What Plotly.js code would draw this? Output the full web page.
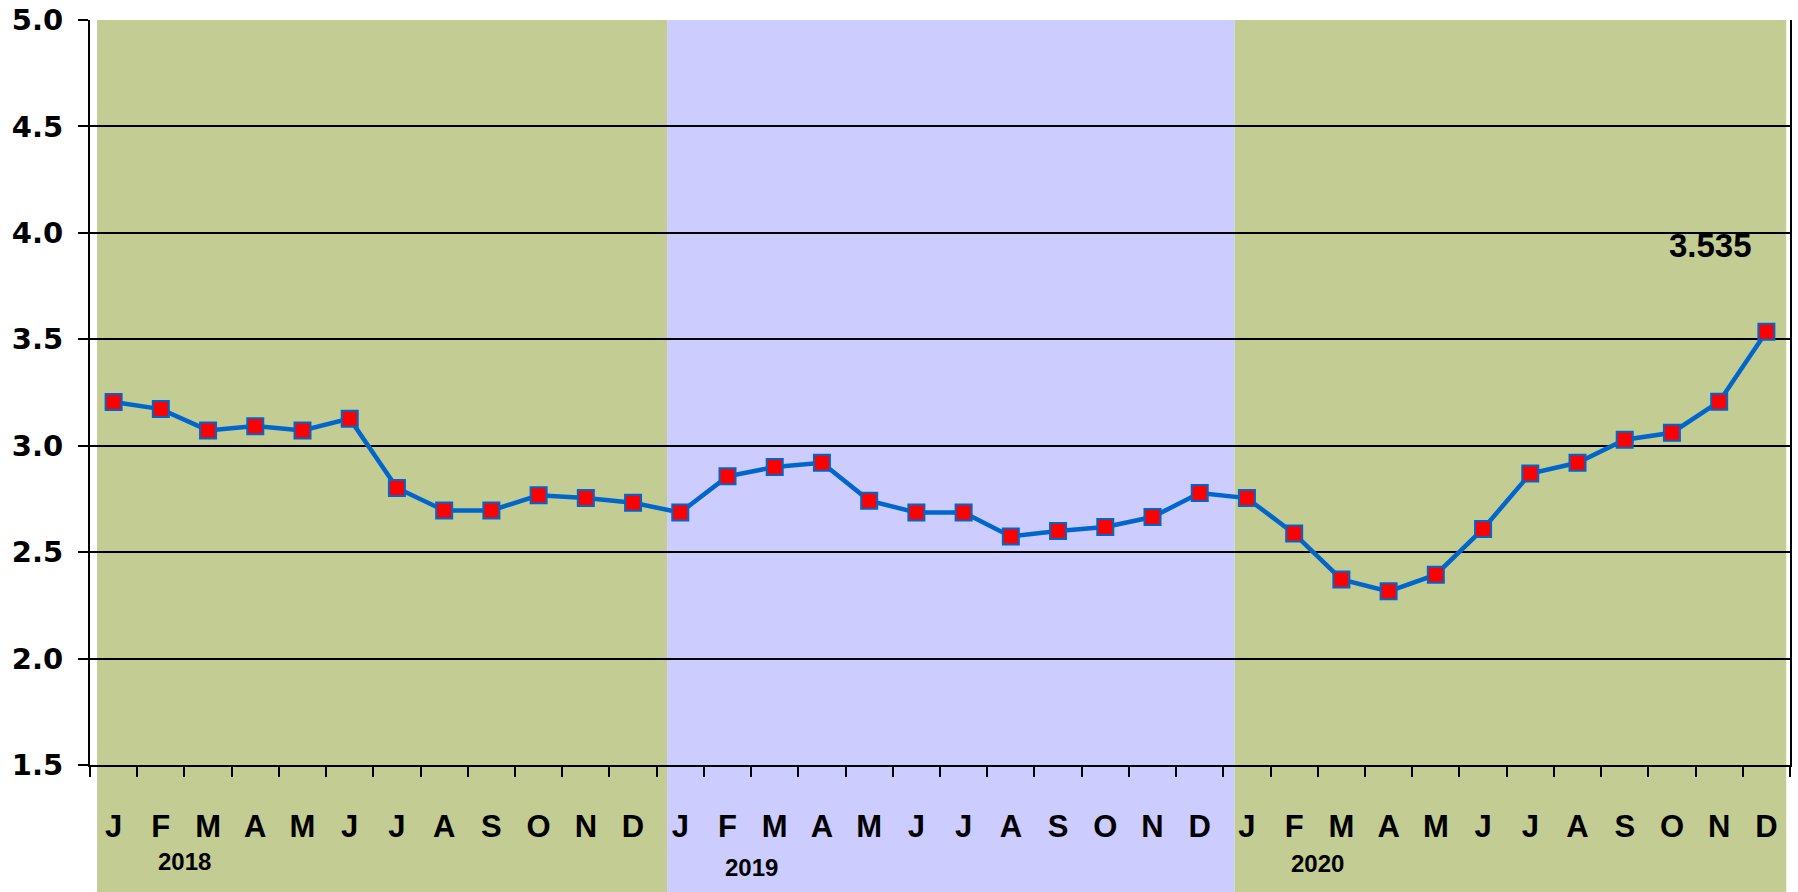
<!DOCTYPE html>
<html>
<head>
<meta charset="utf-8">
<script src="https://cdn.plot.ly/plotly-3.0.1.min.js"></script>
<style>html,body{margin:0;padding:0;background:#fff;}#chart{width:1798px;height:892px;}</style>
</head>
<body>
<div id="chart"></div>
<script>
// Data
const monthLabels = ['J','F','M','A','M','J','J','A','S','O','N','D'];
const years = ['2018','2019','2020'];
const values2018 = [3.205, 3.172, 3.072, 3.092, 3.072, 3.127, 2.801, 2.696, 2.696, 2.767, 2.754, 2.732];
const values2019 = [2.686, 2.856, 2.900, 2.920, 2.742, 2.686, 2.686, 2.574, 2.599, 2.618, 2.665, 2.778];
const values2020 = [2.754, 2.587, 2.372, 2.316, 2.394, 2.609, 2.869, 2.920, 3.028, 3.061, 3.207, 3.535];
const yearColors = ['#C3CC92', '#CCCCFF', '#C3CC92'];

const values = values2018.concat(values2019, values2020);
const xIdx = values.map((v, i) => i);
const tickText = years.flatMap(() => monthLabels);
const boundaries = [];
for (let i = 0; i <= values.length; i++) boundaries.push(i - 0.5);

const bandEdges = [-0.35, 11.72, 23.74, 35.42];
const shapes = years.map((y, k) => ({
  type: 'rect', layer: 'below', xref: 'x', yref: 'paper',
  x0: bandEdges[k], x1: bandEdges[k + 1], y0: -0.171, y1: 1,
  fillcolor: yearColors[k], line: {width: 0}
}));

const annYearY = [-0.130, -0.138, -0.132];
const annotations = years.map((y, k) => ({
  xref: 'x', yref: 'paper', x: k * 12 + 1.5, y: annYearY[k],
  text: y, showarrow: false, xanchor: 'center', yanchor: 'middle',
  font: {family: 'Liberation Sans, Arial, sans-serif', size: 24, color: '#000', weight: 'bold'}
}));
const lastI = values.length - 1;
annotations.push({
  xref: 'x', yref: 'y', x: lastI - 1.18, y: values[lastI] + 0.405,
  text: values[lastI].toFixed(3), showarrow: false, xanchor: 'center', yanchor: 'middle',
  font: {family: 'Liberation Sans, Arial, sans-serif', size: 33, color: '#000', weight: 'bold'}
});

const trace = {
  x: xIdx, y: values, type: 'scatter', mode: 'lines+markers',
  line: {color: '#0066CC', width: 4.5},
  marker: {symbol: 'square', size: 16, color: '#FF0000', line: {color: '#0066CC', width: 2}},
  hoverinfo: 'skip', cliponaxis: false
};

const layout = {
  width: 1798, height: 892,
  margin: {l: 90, r: 8, t: 20, b: 127},
  paper_bgcolor: '#FFFFFF', plot_bgcolor: 'rgba(0,0,0,0)',
  showlegend: false,
  xaxis: {
    range: [-0.5, 35.5], tickmode: 'array', tickvals: xIdx, ticktext: tickText,
    ticks: '', showgrid: false, zeroline: false,
    showline: true, linecolor: '#000', linewidth: 2,
    tickfont: {family: 'Liberation Sans, Arial, sans-serif', size: 31, color: '#000', weight: 'bold'},
    ticklabelstandoff: 33,
    minor: {tickmode: 'array', tickvals: boundaries, ticks: 'outside', ticklen: 10, tickwidth: 2, tickcolor: '#000', showgrid: false},
    fixedrange: true
  },
  yaxis: {
    range: [1.5, 5.0], tickmode: 'linear', tick0: 1.5, dtick: 0.5, tickformat: '.1f',
    ticks: 'outside', ticklen: 10, tickwidth: 2, tickcolor: '#000',
    showgrid: true, gridcolor: '#000', gridwidth: 2, zeroline: false,
    showline: true, linecolor: '#000', linewidth: 2, mirror: true,
    tickfont: {family: 'DejaVu Sans, sans-serif', size: 29, color: '#000', weight: 'bold'},
    ticklabelstandoff: 9,
    fixedrange: true
  },
  shapes: shapes,
  annotations: annotations
};

Plotly.newPlot('chart', [trace], layout, {displayModeBar: false, staticPlot: true});
</script>
</body>
</html>
